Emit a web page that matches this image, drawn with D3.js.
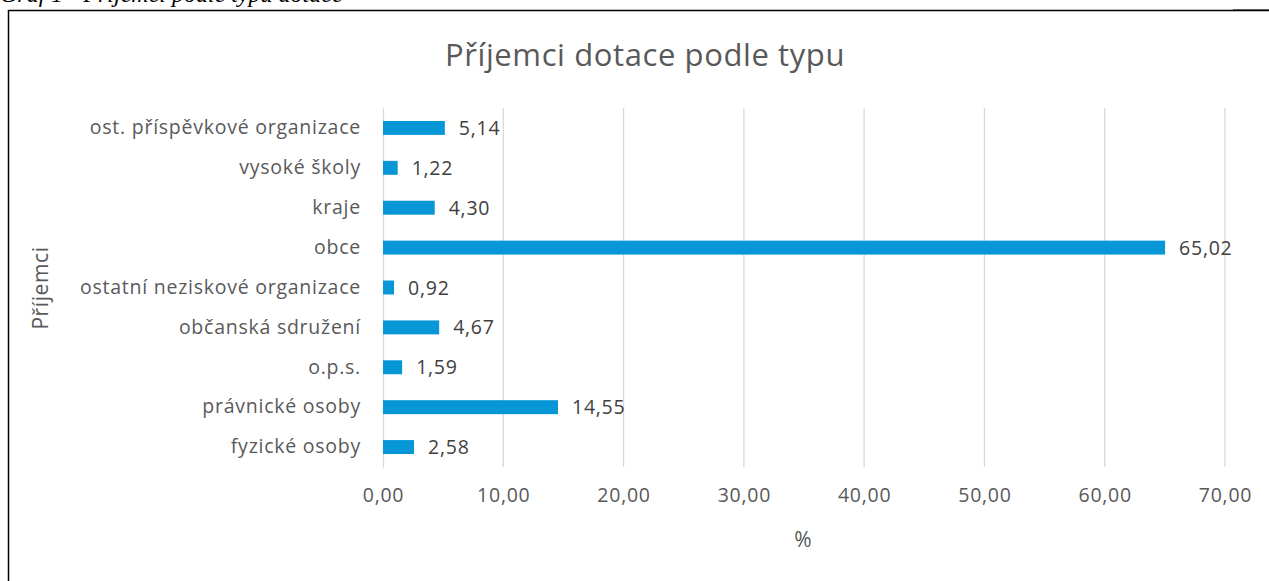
<!DOCTYPE html>
<html><head><meta charset="utf-8">
<script src="https://cdn.jsdelivr.net/npm/d3@7"></script>
<style>
html,body{margin:0;padding:0;background:#fff;overflow:hidden}
text{font-family:"Open Sans","Noto Sans",sans-serif}
</style></head>
<body>
<svg id="c" width="1269" height="581"></svg>
<script>
const categories = ["ost. příspěvkové organizace","vysoké školy","kraje","obce","ostatní neziskové organizace","občanská sdružení","o.p.s.","právnické osoby","fyzické osoby"];
const values = [5.14,1.22,4.30,65.02,0.92,4.67,1.59,14.55,2.58];
const tickValues = [0,10,20,30,40,50,60,70];
const title = "Příjemci dotace podle typu";
const caption = "Graf 1 - Příjemci podle typu dotace";
const yTitle = "Příjemci";
const xTitle = "%";

const svg = d3.select("#c");
const fmt = v => v.toFixed(2).replace(".", ",");

// caption (cut off at top)
svg.append("text").attr("x", 0).attr("y", 2)
  .style("font-family", "'Liberation Serif','DejaVu Serif',serif")
  .style("font-style", "italic").style("font-size", "24px").attr("fill", "#000")
  .text(caption);
svg.append("line").attr("x1", 1233).attr("x2", 1269).attr("y1", 9.5).attr("y2", 9.5)
  .attr("stroke", "#808080").attr("stroke-width", 1);

// frame
svg.append("path").attr("d", "M8.5,600 V10.5 H1300")
  .attr("fill", "none").attr("stroke", "#000").attr("stroke-width", 1.5);

const x = d3.scaleLinear().domain([0, 70]).range([383, 1225]);
const y = d3.scaleBand().domain(categories).range([108, 467]).paddingInner(0.65).paddingOuter(0.325);

// gridlines
svg.append("g").selectAll("line").data(tickValues.slice(1)).join("line")
  .attr("x1", d => x(d)).attr("x2", d => x(d)).attr("y1", 108).attr("y2", 467)
  .attr("stroke", "#d9d9d9").attr("stroke-width", 1.3);

const labelStyle = sel => sel.attr("fill", "#595959").style("font-size", "19.5px")
  .style("letter-spacing", "0.75px").style("font-family", "'Open Sans',sans-serif");

// x axis (labels only)
const xa = svg.append("g").attr("transform", "translate(0,467)")
  .call(d3.axisBottom(x).tickValues(tickValues).tickFormat(fmt).tickSize(0).tickPadding(21));
xa.select(".domain").remove();
xa.selectAll("text").call(labelStyle);

// y axis
const ya = svg.append("g").attr("transform", "translate(383,0)")
  .call(d3.axisLeft(y).tickSize(0).tickPadding(22));
ya.select(".domain").attr("stroke", "#d9d9d9").attr("stroke-width", 1.3);
ya.selectAll("text").call(labelStyle);

// bars
svg.append("g").selectAll("rect").data(values).join("rect")
  .attr("x", x(0)).attr("y", (d, i) => y(categories[i]))
  .attr("width", d => x(d) - x(0)).attr("height", y.bandwidth())
  .attr("fill", "#0796d6");

// data labels
svg.append("g").selectAll("text").data(values).join("text")
  .attr("x", d => x(d) + 14).attr("y", (d, i) => y(categories[i]) + y.bandwidth() / 2)
  .attr("dy", "0.36em").call(labelStyle).attr("fill", "#404040")
  .text(fmt);

// title
svg.append("text").attr("x", 645).attr("y", 66).attr("text-anchor", "middle")
  .attr("fill", "#595959").style("font-size", "31px").style("letter-spacing", "0.6px").text(title);

// axis titles
svg.append("text").attr("transform", "translate(48,288) rotate(-90)").attr("text-anchor", "middle")
  .attr("fill", "#595959").style("font-size", "21px").style("letter-spacing", "0.6px").text(yTitle);
svg.append("text").attr("x", 803).attr("y", 547).attr("text-anchor", "middle")
  .attr("fill", "#595959").style("font-size", "21px").text(xTitle);
</script>
</body></html>
